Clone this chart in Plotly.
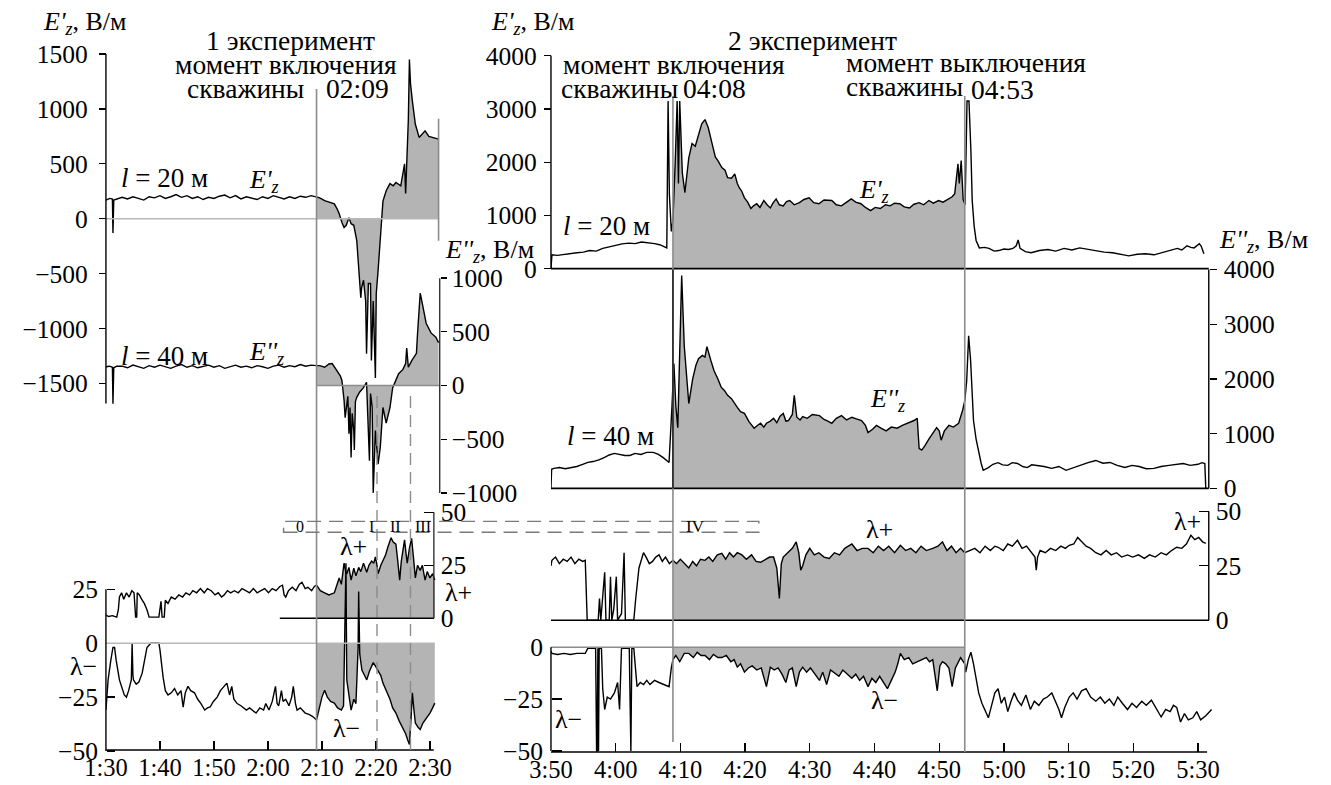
import numpy as np
import plotly.graph_objects as go

W, H = 1331, 785
SERIF = "Liberation Serif"
GREY_FILL = "#b4b4b4"
GREY_LINE = "#8c8c8c"
LIGHT_LINE = "#b8b8b8"
TXT = 27.5

# ======================= DATA =======================
# time in minutes after midnight (90 = 1:30, 230 = 3:50)

# ---- Experiment 1 ----
exp1_switch_on = 129.0          # 02:09
exp1_stage_marks = [140.2, 146.4]
exp1_ticks = [90, 100, 110, 120, 130, 140, 150]
exp1_ticklabels = ["1:30", "1:40", "1:50", "2:00", "2:10", "2:20", "2:30"]

exp1_pre_t = [90.0, 90.7, 91.2, 91.3, 91.45, 92.0, 93.0, 94.0, 95.0, 96.0, 97.0, 98.0, 99.0, 100.0,
              101.0, 102.0, 103.0, 104.0, 105.0, 106.0, 107.0, 108.0, 109.0, 110.0, 111.0, 112.0,
              113.0, 114.0, 115.0, 116.0, 117.0, 118.0, 119.0, 120.0, 121.0, 122.0, 123.0, 124.0,
              125.0, 126.0, 127.0, 128.0, 129.0]

exp1_ez1_t = exp1_pre_t + [129.6, 130.5, 131.5, 132.3, 132.8, 133.2, 133.7, 134.1, 134.5, 135.0, 135.4,
                           135.9, 136.45, 136.8, 137.2, 137.35, 137.7, 138.1, 138.26, 138.6, 139.0, 139.16,
                           139.5, 139.9, 140.06, 140.4, 140.8, 141.0, 141.3, 141.9, 142.6, 143.2, 143.7,
                           144.6, 145.3, 145.5, 145.7, 146.0, 146.2, 146.4, 146.75, 147.3, 148.0, 148.6,
                           149.1, 149.8, 150.7, 151.6]
exp1_ez1_v = [170, 185, 180, -130, 170, 180,
              195, 180, 200, 185, 170, 200, 190, 210, 185, 200, 220, 195, 210, 185, 200, 175, 195, 185,
              205, 215, 190, 210, 180, 200, 190, 175, 200, 185, 210, 195, 180, 200, 185, 205, 195, 210, 200,
              190, 165, 150, 135, 90, 45, -35, -80, -60, 10, -45, -60, -200, -440, -720, -630, -560, -750,
              -1230, -590, -590, -1290, -750, -1450, -680, -470, -140, 0, 160, 255, 320, 300, 330, 300, 500,
              230, 480, 900, 1450, 1230, 1070, 860, 740, 770, 800, 750, 735, 725]

exp1_ez2_t = exp1_pre_t + [129.6, 130.5, 131.3, 131.9, 132.8, 133.4, 133.7, 134.1, 134.3, 134.6, 134.8,
                           135.0, 135.2, 135.4, 135.6, 135.9, 136.0, 136.2, 136.45, 137.0, 137.7, 138.26,
                           138.6, 138.8, 139.0, 139.3, 139.5, 139.9, 140.4, 140.8, 141.3, 141.9, 142.6,
                           143.1, 143.7, 144.2, 145.0, 145.5, 145.7, 146.0, 146.6, 147.5, 147.7, 148.2,
                           148.6, 149.3, 150.2, 151.1, 151.6]
exp1_ez2_v = [175, 180, 170, -170, 165, 180,
              180, 165, 190, 175, 160, 185, 170, 190, 175, 160, 180, 195, 170, 185, 165, 180, 190, 170,
              185, 160, 175, 190, 170, 180, 165, 185, 175, 160, 180, 190, 170, 185, 175, 195, 180, 190, 185,
              185, 170, 200, 205, 140, 90, 47, -140, -300, -140, -100, -450, -205, -670, -260, -420, -600,
              -150, -110, -60, -20, 30, -350, -700, -75, -200, -1000, -420, -730, -580, -205, -350, -205,
              -20, 50, 110, 150, 205, 350, 170, 230, 300, 480, 860, 760, 580, 490, 450, 400]

exp1_lp_t = [90.0, 90.5, 91.2, 92.0, 92.3, 92.5, 92.9, 93.3, 93.8, 94.3, 94.8, 95.2, 95.5, 95.7, 95.8,
             96.2, 96.6, 97.1, 97.6, 98.0, 99.0, 99.8, 100.2, 100.4, 100.8, 101.0, 101.5, 102.1, 102.8,
             103.5, 104.2, 104.8, 105.5, 106.1, 106.8, 107.5, 108.2, 108.8, 109.5, 110.2, 110.8, 111.4,
             111.9, 112.5, 113.1, 113.8, 114.5, 115.2, 115.9, 116.6, 117.3, 118.0, 118.7, 119.4, 120.1,
             120.8, 121.5, 122.2, 122.7, 123.0, 123.3, 123.8, 124.5, 125.2, 125.8, 126.3, 126.9, 127.4,
             128.1, 128.6, 129.0, 129.7, 130.5, 131.3, 132.3, 132.7, 133.2, 133.6, 134.1, 134.4, 134.6,
             135.0, 135.4, 135.9, 136.3, 136.8, 137.2, 137.7, 138.0, 138.3, 138.7, 139.2, 139.6, 139.9,
             140.2, 140.4, 140.9, 141.3, 141.8, 142.2, 142.5, 142.8, 143.2, 143.7, 144.0, 144.4, 144.7,
             145.0, 145.3, 145.6, 145.8, 146.2, 146.6, 146.9, 147.3, 147.7, 148.2, 148.6, 149.1, 149.5,
             150.0, 150.5, 150.9]
exp1_lp_v = [1.5, 0.8, 1.2, 0.5, 4, 10, 12, 9, 12, 10, 13, 12, 0.5, 0.5, 12,
             11, 9, 7, 4, 0.5, 0.5, 0.5, 8, 0.5, 0.5, 8.5, 7, 10, 9,
             11, 10, 12, 11, 13, 12, 14, 12, 14, 13, 11, 12, 10,
             11, 13, 12, 13, 12, 14, 13, 12, 14, 12, 13, 14, 12,
             14, 13, 15, 15.6, 11, 10, 13, 14.6, 13, 16, 17, 14, 14.6,
             13, 15, 15.6, 13, 12, 11, 12, 15, 19, 16, 26, 22, 21,
             24, 18, 23.6, 20, 24, 22, 26, 24, 21.7, 25, 27, 26, 29,
             25, 21, 25, 27, 30, 33.5, 36, 38, 36, 35, 28, 18, 27,
             33, 37, 30, 26, 33, 37.7, 30, 19, 25, 22.6, 25, 18, 22,
             19, 21, 18]

exp1_lm_t = [90.0, 90.2, 90.4, 90.9, 91.3, 91.6, 91.9, 92.5, 93.0, 93.4, 93.8, 94.2, 94.7, 94.85, 95.0,
             95.1, 95.6, 96.1, 96.7, 97.2, 97.6, 98.3, 99.2, 99.8, 100.0, 100.3, 100.6, 101.0, 101.5,
             102.1, 102.7, 103.3, 103.9, 104.3, 104.7, 105.2, 105.7, 106.4, 107.0, 107.6, 108.3, 108.8,
             109.3, 109.9, 110.6, 111.2, 111.8, 112.4, 112.9, 113.3, 113.7, 114.3, 115.0, 115.5, 116.0,
             116.6, 117.2, 117.8, 118.5, 119.2, 119.6, 120.2, 120.8, 121.4, 121.7, 122.0, 122.5, 122.8,
             123.3, 123.9, 124.4, 124.7, 125.1, 125.4, 126.0, 126.9, 127.6, 128.3, 129.0, 129.6, 130.0,
             130.5, 131.0, 131.6, 132.3, 132.9, 133.6, 134.0, 134.45, 134.6, 135.0, 135.4, 135.9, 136.3,
             136.7, 136.8, 137.0, 137.4, 137.9, 138.3, 138.8, 139.2, 139.5, 140.0, 140.4, 140.9, 141.3,
             141.9, 142.6, 143.1, 143.7, 144.3, 144.9, 145.5, 145.9, 146.2, 146.5, 146.75, 147.0, 147.3,
             147.8, 148.2, 148.7, 149.1, 149.6, 150.0, 150.5, 150.9]
exp1_lm_v = [-31, -25, -17, -8, -2, -2, -8, -17, -21, -24, -25, -22, -17, 0, -15,
             -17, -19, -18, -14, -8, -2, 0, 0, 0, -3, -11, -16, -22, -24,
             -23, -21, -24, -22, -29.6, -23, -20, -22, -23, -26, -28, -31, -30,
             -29.6, -27, -25, -22, -20, -18.5, -24, -20, -26, -28, -29, -30, -31,
             -30, -31, -32.4, -30, -31, -28, -31, -27, -20, -28, -29, -22, -27,
             -26, -29, -25, -20, -28, -31, -30, -32.4, -33, -34, -35.6, -30, -25,
             -21.8, -25, -27, -27.8, -30, -31, -29, 37, -17, -25, -31, -26, -28,
             -2, 24, -5, -12.5, -15, -17, -13, -11, -9, -11, -12.5, -15, -18.5,
             -22, -26, -30, -32.4, -36, -39, -42, -45, -47, -35, -23, -30, -37,
             -39, -40, -37, -35.6, -34, -32.4, -30, -27.8]

# ---- Experiment 2 ----
exp2_switch_on = 248.85         # 04:08
exp2_switch_off = 293.95        # 04:53
exp2_ticks = [230, 240, 250, 260, 270, 280, 290, 300, 310, 320, 330]
exp2_ticklabels = ["3:50", "4:00", "4:10", "4:20", "4:30", "4:40", "4:50", "5:00", "5:10", "5:20", "5:30"]

exp2_ez1_t = [230.0, 230.15, 231.0, 232.0, 233.0, 234.0, 235.0, 236.0, 237.0, 238.0, 239.0, 240.0, 241.0,
              242.0, 243.0, 244.0, 245.0, 246.0, 246.8, 247.5, 247.9, 248.1, 248.3, 248.6, 248.85, 249.2,
              249.5, 249.7, 249.9, 250.3, 250.7, 251.3, 251.8, 252.3, 252.8, 253.3, 253.8, 254.3, 254.9,
              255.4, 255.8, 256.4, 256.9, 257.3, 257.9, 258.4, 258.8, 259.1, 259.5, 259.9, 260.4, 260.9,
              261.3, 261.8, 262.3, 262.9, 263.4, 263.9, 264.3, 264.8, 265.3, 265.9, 266.4, 266.9, 267.6,
              268.4, 269.1, 269.9, 270.6, 271.4, 272.2, 273.4, 274.1, 274.9, 275.7, 276.4, 277.1, 277.9,
              278.6, 279.4, 280.1, 280.9, 281.7, 282.4, 283.1, 283.9, 284.6, 285.4, 286.1, 286.9, 287.6,
              288.4, 289.1, 289.9, 290.6, 291.4, 292.0, 292.4, 292.9, 293.1, 293.4, 293.7, 294.0, 294.3,
              294.6, 294.9, 295.1, 295.4, 295.7, 296.2, 297.0, 297.7, 298.5, 299.2, 300.0, 300.7, 301.4,
              301.9, 302.2, 302.5, 303.3, 304.2, 305.5, 306.8, 308.0, 309.3, 310.5, 311.7, 313.0, 314.3,
              315.5, 316.8, 318.0, 319.3, 320.6, 321.9, 323.2, 324.4, 325.6, 326.8, 327.5, 328.3, 328.9,
              329.4, 330.2, 330.5, 330.9]
exp2_ez1_v = [0, 260, 250, 270, 285, 300, 310, 340, 330, 380, 410, 440, 465,
              480, 470, 500, 490, 470, 450, 420, 390, 3150, 1400, 700, 900, 2000,
              3150, 1600, 3150, 1800, 1430, 2080, 2350, 2300, 2530, 2720, 2800, 2650, 2350,
              2100, 2030, 1900, 1850, 1710, 1700, 1780, 1600, 1520, 1450, 1330, 1250, 1130,
              1180, 1220, 1150, 1280, 1200, 1140, 1230, 1310, 1200, 1180, 1260, 1280, 1200,
              1240, 1300, 1330, 1240, 1220, 1290, 1280, 1200, 1180, 1250, 1310, 1250, 1220,
              1150, 1090, 1150, 1130, 1200, 1180, 1230, 1220, 1160, 1140, 1210, 1240, 1200,
              1280, 1230, 1280, 1250, 1310, 1350, 1410, 1970, 1600, 2030, 1300, 1200, 3150,
              3150, 2210, 1280, 800, 530, 390, 400, 380, 330, 340, 370, 360, 380,
              430, 540, 380, 320, 300, 340, 360, 330, 380, 350, 390, 360, 340,
              310, 300, 270, 240, 270, 280, 260, 300, 330, 380, 350, 430, 400,
              390, 470, 420, 280]

exp2_ez2_t = [230.0, 230.1, 230.45, 231.3, 232.2, 233.2, 234.0, 234.9, 235.7, 236.5, 237.4, 238.3, 239.0,
              239.8, 240.6, 241.4, 242.2, 243.0, 243.9, 244.8, 245.8, 246.6, 247.3, 248.0, 248.25, 248.7,
              249.0, 249.3, 249.6, 249.9, 250.2, 250.6, 251.3, 251.9, 252.4, 252.8, 253.4, 253.8, 254.1,
              254.7, 255.2, 255.8, 256.3, 256.8, 257.3, 257.9, 258.3, 258.8, 259.3, 259.9, 260.6, 261.4,
              261.9, 262.4, 262.9, 263.3, 263.9, 264.4, 264.9, 265.4, 265.9, 266.3, 266.7, 267.3, 267.6,
              268.0, 268.5, 268.9, 269.6, 270.4, 271.5, 272.2, 272.8, 273.4, 274.1, 274.9, 275.7, 276.5,
              277.2, 278.0, 278.6, 279.0, 279.7, 280.3, 281.0, 281.8, 282.6, 283.5, 284.3, 285.0, 285.5,
              286.1, 286.6, 286.9, 287.3, 287.8, 288.4, 288.9, 289.6, 290.0, 290.3, 290.8, 291.5, 292.2,
              293.0, 293.6, 293.95, 294.25, 294.55, 294.85, 295.3, 295.7, 296.1, 296.5, 296.8, 297.6,
              298.3, 299.1, 299.8, 300.6, 301.3, 302.1, 302.9, 303.6, 304.3, 305.1, 306.2, 307.4, 308.5,
              309.6, 310.7, 311.9, 313.0, 314.2, 315.3, 316.4, 317.5, 318.7, 319.8, 320.9, 322.0, 323.2,
              324.3, 325.5, 326.6, 327.7, 328.8, 330.0, 330.6, 331.05, 331.2]
exp2_ez2_v = [0, 350, 365, 380, 360, 383, 400, 440, 474, 490, 520, 566, 610,
              639, 620, 600, 602, 640, 620, 657, 657, 620, 566, 500, 474, 1500,
              2280, 1500, 1110, 2500, 3890, 2600, 1550, 2000, 2250, 2370, 2430, 2400, 2590,
              2340, 2150, 2000, 1850, 1790, 1700, 1640, 1560, 1480, 1400, 1370, 1220, 1100,
              1150, 1190, 1120, 1190, 1230, 1280, 1200, 1320, 1370, 1230, 1240, 1350, 1700,
              1300, 1250, 1310, 1280, 1350, 1330, 1260, 1230, 1190, 1280, 1330, 1250, 1300,
              1270, 1240, 1150, 1020, 1080, 1150, 1100, 1050, 1120, 1100, 1150, 1180, 1200,
              1240, 1280, 730, 700, 780, 900, 980, 1110, 1050, 880, 1050, 1150, 1120,
              1190, 1420, 1600, 1970, 2790, 2340, 1240, 900, 640, 450, 330, 380,
              440, 470, 430, 420, 470, 455, 400, 380, 430, 420, 400, 365, 400,
              330, 380, 420, 470, 510, 460, 474, 420, 383, 420, 400, 360, 365,
              400, 420, 440, 455, 420, 440, 470, 455, 0]

exp2_lp_t = [230.0, 230.15, 230.7, 231.3, 231.9, 232.5, 233.1, 233.7, 234.3, 234.9, 235.3, 235.5, 235.6,
             236.9, 237.3, 237.5, 237.7, 238.3, 238.5, 239.0, 239.2, 239.4, 239.7, 240.1, 240.3, 240.9,
             241.3, 241.5, 242.8, 243.1, 243.6, 244.0, 244.3, 244.7, 245.2, 245.7, 246.2, 246.7, 247.2,
             247.7, 248.3, 248.85, 249.4, 250.0, 250.6, 251.3, 251.9, 252.5, 253.1, 253.8, 254.4, 255.0,
             255.7, 256.4, 257.0, 257.6, 258.2, 258.8, 259.5, 260.2, 261.0, 261.7, 262.4, 263.1, 263.8,
             264.4, 264.9, 265.3, 265.6, 265.9, 266.6, 267.3, 267.9, 268.3, 268.6, 268.9, 269.4, 270.0,
             270.7, 271.4, 272.2, 273.0, 273.8, 274.6, 275.4, 276.5, 277.3, 278.1, 279.0, 279.8, 280.6,
             281.4, 282.2, 283.1, 284.0, 284.8, 285.6, 286.4, 287.2, 288.0, 289.0, 289.8, 290.5, 291.2,
             291.9, 292.6, 293.3, 293.95, 294.7, 295.5, 296.3, 297.1, 297.9, 298.6, 299.1, 299.9, 300.6,
             301.3, 302.1, 302.8, 303.5, 304.2, 304.8, 305.0, 305.2, 305.6, 306.4, 307.2, 308.0, 308.8,
             309.5, 310.1, 310.8, 311.4, 312.0, 312.7, 313.4, 314.2, 315.0, 315.8, 316.6, 317.4, 318.2,
             319.1, 319.9, 320.8, 321.7, 322.5, 323.4, 324.3, 325.1, 325.9, 326.7, 327.5, 328.2, 328.9,
             329.5, 330.1, 330.7, 331.2]
exp2_lp_v = [25, 27.5, 29, 26, 28, 27, 29, 26, 28, 27, 27.5, 10, 0,
             0, 0, 10, 0, 22, 0, 0, 20, 0, 5, 20, 0, 3,
             31, 0, 0, 10, 24, 28, 31, 29, 26, 27, 29, 30, 27,
             29, 26, 27.5, 26, 28, 26, 24, 27, 25, 28, 27.5, 29, 27,
             30, 30.7, 28, 31, 29, 31, 30, 28, 30, 27, 26.6, 28, 29,
             29, 24, 10, 26, 29, 31, 33, 36, 31, 23, 25, 30, 33,
             30, 31, 29, 28.4, 31, 30, 33, 35, 32, 33, 33, 31, 34,
             32, 34, 31, 34.4, 32, 33, 31, 34, 32, 33, 34, 36, 32,
             34, 31, 33, 31, 32, 33, 31, 34, 32, 34, 33.5, 32, 35,
             34, 36.7, 33, 34, 31, 29, 23, 29, 32, 31, 33, 32, 34,
             33, 34.4, 35, 38, 36, 34, 33, 31, 30, 32, 30, 31, 29,
             30, 29, 30, 28.4, 30, 29, 31, 30, 32, 33.5, 33, 35, 39,
             37, 38, 36, 35.3]

exp2_lm_t = [230.0, 230.15, 231.0, 232.0, 233.0, 234.0, 235.0, 235.3, 235.7, 236.9, 237.05, 237.15, 237.25,
             237.35, 237.45, 237.8, 238.0, 238.3, 238.7, 239.2, 239.8, 240.3, 240.6, 240.9, 242.1, 242.35,
             242.5, 242.8, 243.3, 243.8, 244.3, 244.8, 245.3, 246.0, 246.7, 247.4, 248.25, 248.6, 248.85,
             249.3, 249.9, 250.6, 251.3, 252.0, 252.6, 253.2, 253.8, 254.5, 255.1, 255.8, 256.4, 257.1,
             257.8, 258.3, 258.8, 259.3, 259.9, 260.5, 261.1, 261.8, 262.5, 263.3, 263.9, 264.5, 265.1,
             265.7, 266.3, 266.8, 267.3, 267.9, 268.4, 268.9, 269.5, 270.1, 270.8, 271.5, 272.0, 272.6,
             273.2, 273.9, 274.5, 275.1, 275.8, 276.5, 277.1, 277.7, 278.3, 279.0, 279.6, 280.2, 280.8,
             281.4, 282.0, 282.6, 283.2, 283.6, 284.0, 284.6, 285.3, 285.9, 286.6, 287.3, 288.0, 288.5,
             289.0, 289.7, 290.1, 290.5, 291.0, 291.5, 292.0, 292.5, 293.3, 293.95, 294.1, 294.5, 294.9,
             295.3, 295.7, 296.1, 296.6, 297.1, 297.6, 298.1, 298.6, 299.1, 299.6, 300.1, 300.6, 301.1,
             301.6, 302.1, 302.7, 303.4, 304.1, 304.7, 305.4, 306.1, 306.7, 307.4, 308.0, 308.5, 308.9,
             309.4, 310.1, 310.7, 311.3, 312.0, 312.7, 313.4, 314.2, 314.9, 315.6, 316.3, 317.0, 317.6,
             318.3, 319.1, 319.8, 320.5, 321.3, 322.0, 322.8, 323.5, 324.3, 325.0, 325.7, 326.2, 326.7,
             327.3, 327.9, 328.5, 329.2, 329.8, 330.4, 331.2, 332.1]
exp2_lm_v = [-2, -3, -3.5, -3, -3.5, -3, -3, -3, -0.5, -0.5, -50, -50, -0.5,
             -50, -0.5, -0.5, -20, -30, -24, -25, -22, -17, -30, -0.5, -0.5, -50,
             -0.5, -0.5, -19, -17, -18, -16, -18, -16, -17, -18, -19, -10, -6,
             -4, -7, -3, -3, -5, -2.5, -4, -4, -6, -3.5, -5, -5, -4,
             -7, -6, -9.6, -8, -12, -10, -9, -11, -10, -19, -9.6, -11, -10,
             -13, -17, -11, -10, -19, -12, -9.6, -12, -10, -13, -16, -12, -18,
             -11, -12.5, -14, -11, -13, -15, -13, -16, -14, -19, -15, -17, -14,
             -17, -20, -16, -12, -8, -3, -6, -5, -8, -7, -6, -5, -7,
             -6, -21, -9, -7, -8, -10, -19, -10, -5, -8, -12, -6, -2.4,
             -8, -15, -22, -27, -31, -34, -28, -22, -20, -27, -24, -31, -26,
             -22, -25.5, -28, -23, -30, -26, -28, -25, -24, -22, -26, -30, -34,
             -29, -24, -22, -25, -21, -20, -24, -26, -24, -27, -25, -28, -24,
             -27, -30, -27, -29, -26, -28, -25.5, -29, -33.6, -30, -31, -28, -29,
             -36, -32, -35, -34, -31, -35, -33, -30]

# axis tick values
ez1_ticks_1 = [-1500, -1000, -500, 0, 500, 1000, 1500]
ez2_ticks_1 = [-1000, -500, 0, 500, 1000]
lp_ticks = [0, 25, 50]
lm_ticks_1 = [-50, -25, 0, 25]
ez_ticks_2 = [0, 1000, 2000, 3000, 4000]
lm_ticks_2 = [-50, -25, 0]

series = [exp1_ez1_t, exp1_ez1_v, exp1_ez2_t, exp1_ez2_v, exp1_lp_t, exp1_lp_v, exp1_lm_t, exp1_lm_v,
          exp2_ez1_t, exp2_ez1_v, exp2_ez2_t, exp2_ez2_v, exp2_lp_t, exp2_lp_v, exp2_lm_t, exp2_lm_v]
for i in range(0, len(series), 2):
    assert len(series[i]) == len(series[i + 1]), (i, len(series[i]), len(series[i + 1]))


def lab(v):
    return str(v).replace("-", "\u2212")


# ======================= LAYOUT HELPERS =======================
def px(x):
    return x / W


def py(y):
    return 1 - y / H


def yax(p0, s, top, bot, pos, side, tickvals, ticks="outside", ticklen=7, standoff=4):
    """linear axis: value v is drawn at pixel row p0 - s*v"""
    return dict(domain=[py(bot), py(top)], range=[(p0 - bot) / s, (p0 - top) / s],
                anchor="free", position=pos, side=side, tickvals=tickvals,
                ticktext=[lab(v) for v in tickvals], ticks=ticks, ticklen=ticklen,
                tickwidth=1.3, tickcolor="black", showline=False, showgrid=False, zeroline=False,
                ticklabelstandoff=standoff,
                tickfont=dict(family=SERIF, size=25.5, color="black"), fixedrange=True)


def xax(x0px, x1px, t0, scale, ypx, tickvals, ticktext):
    return dict(domain=[px(x0px), px(x1px)], range=[t0, t0 + (x1px - x0px) / scale],
                anchor="free", position=py(ypx), tickvals=tickvals, ticktext=ticktext,
                ticks="inside", ticklen=9, tickwidth=1.3, tickcolor="black",
                showline=False, showgrid=False, zeroline=False, ticklabelstandoff=0,
                tickfont=dict(family=SERIF, size=24.5, color="black"), fixedrange=True)


layout = dict(width=W, height=H, margin=dict(l=0, r=0, t=0, b=0, pad=0), autosize=False,
              paper_bgcolor="white", plot_bgcolor="rgba(0,0,0,0)", showlegend=False,
              font=dict(family=SERIF, size=25, color="black"))

layout["xaxis"] = xax(86, 430, 90, 5.533, 750, exp1_ticks, exp1_ticklabels)
layout["xaxis2"] = xax(542, 1225, 230, 6.63, 752, exp2_ticks, exp2_ticklabels)

layout["yaxis"] = yax(218, 0.11, 40, 420, px(86), "left", ez1_ticks_1, standoff=6)
layout["yaxis2"] = yax(385, 0.1075, 255, 515, px(428), "right", ez2_ticks_1, ticklen=6, standoff=0)
layout["yaxis3"] = yax(618, 2.12, 495, 635, px(422), "right", lp_ticks, ticks="inside", ticklen=10, standoff=6)
layout["yaxis4"] = yax(643, 2.16, 545, 775, px(86), "left", lm_ticks_1, ticks="inside", ticklen=8, standoff=8)
layout["yaxis5"] = yax(268, 0.0533, 40, 300, px(542), "left", ez_ticks_2, standoff=2)
layout["yaxis6"] = yax(488, 0.0548, 250, 505, px(1216), "right", ez_ticks_2, standoff=2)
layout["yaxis7"] = yax(620, 2.18, 495, 635, px(1216), "right", lp_ticks, ticks="inside", ticklen=10, standoff=6)
layout["yaxis8"] = yax(647, 2.08, 630, 775, px(542), "left", lm_ticks_2, ticks="inside", ticklen=10, standoff=8)

fig = go.Figure(layout=layout)


def seg(t, v, t0, t1):
    t = np.asarray(t, float)
    v = np.asarray(v, float)
    inside = (t > t0) & (t < t1)
    ts = np.concatenate([[t0], t[inside], [t1]])
    vs = np.concatenate([[np.interp(t0, t, v)], v[inside], [np.interp(t1, t, v)]])
    return ts, vs


def add_series(t, v, xa, ya, t0, t1, width=1.4):
    ts, vs = seg(t, v, t0, t1)
    fig.add_trace(go.Scatter(x=ts, y=vs, xaxis=xa, yaxis=ya, mode="lines", line=dict(width=0),
                             fill="tozeroy", fillcolor=GREY_FILL, hoverinfo="skip"))
    fig.add_trace(go.Scatter(x=t, y=v, xaxis=xa, yaxis=ya, mode="lines",
                             line=dict(color="black", width=width), hoverinfo="skip"))


add_series(exp1_ez1_t, exp1_ez1_v, "x", "y", exp1_switch_on, exp1_ez1_t[-1])
add_series(exp1_ez2_t, exp1_ez2_v, "x", "y2", exp1_switch_on, exp1_ez2_t[-1])
add_series(exp1_lp_t, exp1_lp_v, "x", "y3", exp1_switch_on, exp1_lp_t[-1])
add_series(exp1_lm_t, exp1_lm_v, "x", "y4", exp1_switch_on, exp1_lm_t[-1])
add_series(exp2_ez1_t, exp2_ez1_v, "x2", "y5", exp2_switch_on, exp2_switch_off)
add_series(exp2_ez2_t, exp2_ez2_v, "x2", "y6", exp2_switch_on, exp2_switch_off)
add_series(exp2_lp_t, exp2_lp_v, "x2", "y7", exp2_switch_on, exp2_switch_off)
add_series(exp2_lm_t, exp2_lm_v, "x2", "y8", exp2_switch_on, exp2_switch_off)

shapes = []


def hline(xref, yref, x0, x1, y, color, width=1.4, dash="solid"):
    shapes.append(dict(type="line", xref=xref, yref=yref, x0=x0, x1=x1, y0=y, y1=y,
                       line=dict(color=color, width=width, dash=dash), layer="above"))


def vline(xref, yref, x, y0, y1, color, width=1.4, dash="solid"):
    shapes.append(dict(type="line", xref=xref, yref=yref, x0=x, x1=x, y0=y0, y1=y1,
                       line=dict(color=color, width=width, dash=dash), layer="above"))


# zero / base lines
hline("x", "y", 90, exp1_ez1_t[-1], 0, LIGHT_LINE, 1.6)
hline("x", "y2", exp1_switch_on, 151.8, 0, GREY_LINE, 1.6)
hline("x", "y3", 122.2, 150.7, 0, "black", 1.4)
hline("x", "y4", 90, exp1_lm_t[-1], 0, LIGHT_LINE, 1.6)
hline("x2", "y5", 230, 331.66, 0, "black", 1.8)
hline("x2", "y6", 230, 331.66, 0, "black", 1.8)
hline("x2", "y7", 230, 331.66, 0, "black", 1.6)
hline("x2", "y8", 230, exp2_switch_off, 0, GREY_LINE, 1.6)

# axis lines
vline("paper", "y", px(86), -1682, 1500, "black", 1.4)
vline("paper", "y2", px(428), -1000, 1000, "#333333", 1.4)
vline("paper", "y3", px(422), 0, 50, "#333333", 1.4)
vline("paper", "y4", px(86), -50, 25, "black", 1.4)
vline("paper", "y5", px(542), 0, 4000, "black", 1.4)
vline("paper", "y6", px(1216), 0, 4000, "black", 1.4)
vline("paper", "y7", px(1216), 0, 50, "black", 1.4)
vline("paper", "y8", px(542), -50, 0, "black", 1.4)
hline("x", "paper", 90, 150.7, py(750), "black", 1.4)
hline("x2", "paper", 230, 331.4, py(752), "black", 1.4)

# event lines
vline("x", "paper", exp1_switch_on, py(750), py(88), GREY_LINE, 1.6)
vline("x", "paper", exp1_ez1_t[-1], py(240), py(118), GREY_LINE, 1.6)
for m in exp1_stage_marks:
    vline("x", "paper", m, py(750), py(390), GREY_LINE, 1.4, "12px,7px")
vline("x2", "paper", exp2_switch_on, py(742), py(95), GREY_LINE, 1.6)
vline("x2", "y6", exp2_switch_on, 0, 4000, "#222222", 1.6)
vline("x2", "paper", exp2_switch_off, py(752), py(95), GREY_LINE, 1.6)

# dashed stage box
shapes.append(dict(type="rect", xref="paper", yref="paper", x0=px(268), x1=px(755), y0=py(532), y1=py(521),
                   line=dict(color="#7a7a7a", width=1.4, dash="14px,8px"), layer="above"))

fig.update_layout(shapes=shapes)

ann = []


def txt(s, x, y, xanchor="left", size=TXT):
    ann.append(dict(text=s, x=px(x), y=py(y), xref="paper", yref="paper", xanchor=xanchor,
                    yanchor="middle", showarrow=False, borderpad=0,
                    font=dict(family=SERIF, size=size, color="black")))


E1 = "<i>E'<sub>z</sub></i>"
E2 = "<i>E''<sub>z</sub></i>"

# experiment 1
txt(E1 + ", В/м", 20, 22, size=26)
txt("1 эксперимент", 275, 40, "center")
txt("момент включения", 270, 64, "center")
txt("скважины", 168, 88)
txt("02:09", 310, 88)
txt("<i>l</i> = 20 м", 100, 177, size=27)
txt(E1, 232, 180, size=26)
txt(E2 + ", В/м", 432, 250, size=26)
txt("<i>l</i> = 40 м", 100, 355, size=27)
txt(E2, 232, 352, size=26)
txt("λ+", 340, 546, "center", 26)
txt("λ−", 333, 728, "center", 26)
txt("λ+", 432, 592, size=26)
txt("λ−", 63, 666, "center", 26)
txt("0", 285, 526, "center", 16)
txt("I", 358, 526, "center", 16)
txt("II", 383, 526, "center", 16)
txt("III", 411, 526, "center", 16)
txt("IV", 690, 526, "center", 17)

# experiment 2
txt(E1 + ", В/м", 480, 22, size=26)
txt("2 эксперимент", 810, 40, "center")
txt("момент включения", 553, 64)
txt("скважины", 551, 88)
txt("04:08", 676, 88)
txt("момент выключения", 843, 62)
txt("скважины", 843, 86)
txt("04:53", 971, 89)
txt("<i>l</i> = 20 м", 553, 225, size=27)
txt(E1, 857, 190, size=26)
txt(E2 + ", В/м", 1225, 240, size=26)
txt("<i>l</i> = 40 м", 557, 436, size=27)
txt(E2, 868, 400, size=26)
txt("λ+", 879, 529, "center", 26)
txt("λ−", 884, 700, "center", 26)
txt("λ+", 1194, 521, "center", 26)
txt("λ−", 560, 719, "center", 26)

fig.update_layout(annotations=ann)

fig.write_html("out.html", config={"displayModeBar": False, "staticPlot": True},
               post_script="document.documentElement.style.overflow='hidden';"
                           "document.body.style.margin='0px';document.body.style.overflow='hidden';")
